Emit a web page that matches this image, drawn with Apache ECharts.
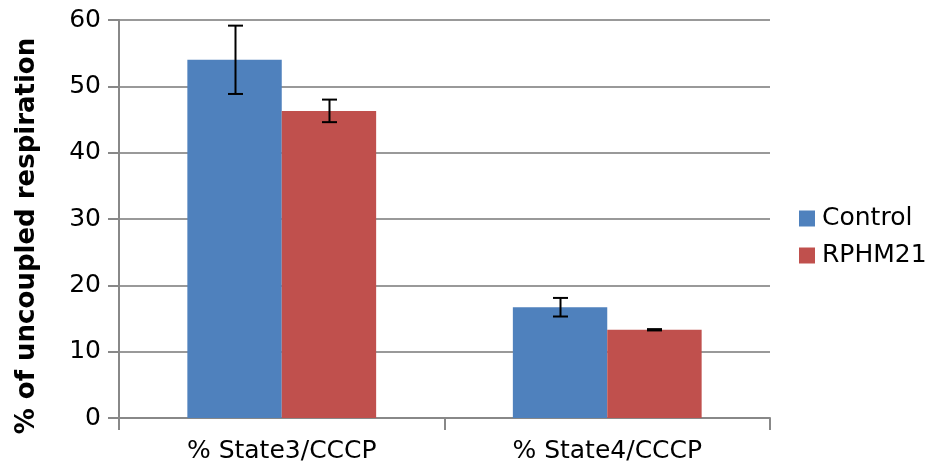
<!DOCTYPE html>
<html><head><meta charset="utf-8">
<script src="https://cdn.jsdelivr.net/npm/echarts@6/dist/echarts.min.js"></script>
<style>html,body{margin:0;padding:0;background:#fff}#c{width:934px;height:470px}</style>
</head><body><div id="c"></div>
<script>
var categories = ['% State3/CCCP', '% State4/CCCP'];
var seriesNames = ['Control', 'RPHM21'];
var controlValues = [54.0, 16.7];
var controlErrors = [5.15, 1.4];
var rphmValues = [46.3, 13.3];
var rphmErrors = [1.7, 0.1];
var yTicks = [0, 10, 20, 30, 40, 50, 60];
var colors = ['#4F81BD', '#C0504D'];

var chart = echarts.init(document.getElementById('c'));
var barW = 0.29;
function errSeries(values, errs, idx) {
  return {
    type: 'custom',
    z: 10,
    data: values.map(function (v, i) { return [i, v - errs[i], v + errs[i]]; }),
    renderItem: function (params, api) {
      var ci = api.value(0);
      var lo = api.coord([ci, api.value(1)]);
      var hi = api.coord([ci, api.value(2)]);
      var bw = api.size([1, 0])[0];
      var x = lo[0] + (idx === 0 ? -0.5 : 0.5) * bw * barW;
      x = Math.round(x) + 0.5;
      var cap = 7.5;
      var st = { stroke: '#000', lineWidth: 2 };
      return { type: 'group', children: [
        { type: 'line', shape: { x1: x, y1: hi[1], x2: x, y2: lo[1] }, style: st },
        { type: 'line', shape: { x1: x - cap, y1: hi[1], x2: x + cap, y2: hi[1] }, style: st },
        { type: 'line', shape: { x1: x - cap, y1: lo[1], x2: x + cap, y2: lo[1] }, style: st }
      ]};
    }
  };
}
chart.setOption({
  animation: false,
  textStyle: { fontFamily: 'DejaVu Sans' },
  grid: { left: 119, right: 164, top: 20, bottom: 52, outerBoundsMode: 'none', containLabel: false },
  legend: {
    orient: 'vertical', left: 794, top: 201,
    itemWidth: 16, itemHeight: 16, itemGap: 12,
    icon: 'rect',
    data: seriesNames,
    textStyle: { fontSize: 25, color: '#000', fontFamily: 'DejaVu Sans', padding: [0, 0, 0, 2] }
  },
  xAxis: {
    type: 'category', data: categories,
    axisLine: { lineStyle: { color: '#888', width: 2 } },
    axisTick: { show: true, length: 12, interval: 0, alignWithLabel: false, lineStyle: { color: '#888', width: 2 } },
    axisLabel: { fontSize: 25, color: '#000', margin: 21, fontFamily: 'DejaVu Sans' }
  },
  yAxis: {
    type: 'value', min: 0, max: 60, interval: 10,
    name: '% of uncoupled respiration', nameLocation: 'middle', nameGap: 79,
    nameTextStyle: { fontSize: 26, fontWeight: 'bold', color: '#000', fontFamily: 'DejaVu Sans', padding: [0, 0, 0, -34] },
    axisLine: { show: true, lineStyle: { color: '#888', width: 2 } },
    axisTick: { show: true, length: 11, lineStyle: { color: '#888', width: 2 } },
    axisLabel: { fontSize: 25, color: '#000', margin: 18, fontFamily: 'DejaVu Sans',
      formatter: function (v) { return yTicks.indexOf(v) >= 0 ? String(v) : ''; } },
    splitLine: { lineStyle: { color: '#999', width: 2 } }
  },
  series: [
    { name: seriesNames[0], type: 'bar', data: controlValues, barWidth: '29%', barGap: '0%', itemStyle: { color: colors[0] } },
    { name: seriesNames[1], type: 'bar', data: rphmValues, barWidth: '29%', barGap: '0%', itemStyle: { color: colors[1] } },
    errSeries(controlValues, controlErrors, 0),
    errSeries(rphmValues, rphmErrors, 1)
  ]
});
</script></body></html>
